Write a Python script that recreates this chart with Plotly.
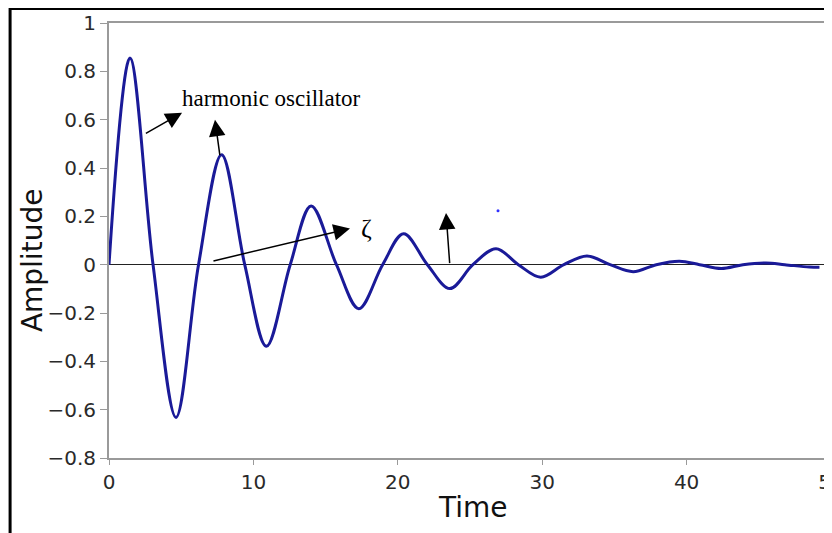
import plotly.graph_objects as go

# Values (extremes and zero crossings)
time = [0, 1.45, 3.05, 4.64, 6.2, 7.8, 9.4, 10.9, 12.55, 14.0, 15.75, 17.3,
        18.95, 20.4, 22.05, 23.6, 25.2, 26.8, 28.35, 29.9, 31.5, 33.1, 34.7,
        36.3, 37.9, 39.5, 40.9, 42.4, 43.9, 45.5, 46.8, 48.5, 49.2]
amplitude = [0, 0.855, 0, -0.632, 0, 0.455, 0, -0.338, 0, 0.243, 0, -0.182,
             0, 0.128, 0, -0.099, 0, 0.066, 0, -0.052, 0, 0.036, 0, -0.029,
             0, 0.014, 0, -0.016, 0, 0.007, 0, -0.010, -0.011]

x_ticks = [0, 10, 20, 30, 40, 50]
y_ticks = [-0.8, -0.6, -0.4, -0.2, 0, 0.2, 0.4, 0.6, 0.8, 1]

# Annotation arrows: (tail_t, tail_v, head_t, head_v)
arrows = [
    (2.45, 0.54, 5.06, 0.629),
    (7.69, 0.447, 7.34, 0.60),
    (7.13, 0.014, 16.69, 0.150),
    (23.6, 0.0, 23.34, 0.214),
]
label_text = "harmonic oscillator"
label_pos = (4.92, 0.687)
zeta_pos = (17.8, 0.149)
dot_pos = (26.94, 0.223)

fig = go.Figure()
fig.add_trace(go.Scatter(
    x=time, y=amplitude, mode="lines",
    line=dict(color="#1a1a98", width=3, shape="spline", smoothing=1.0),
    showlegend=False, hoverinfo="skip",
))
fig.add_trace(go.Scatter(
    x=[dot_pos[0]], y=[dot_pos[1]], mode="markers",
    marker=dict(color="#3030ff", size=3), showlegend=False, hoverinfo="skip",
))

annotations = []
for (tx, ty, hx, hy) in arrows:
    annotations.append(dict(
        x=hx, y=hy, ax=tx, ay=ty, xref="x", yref="y", axref="x", ayref="y",
        text="", showarrow=True, arrowhead=2, arrowsize=2.2, arrowwidth=1.5,
        arrowcolor="black", standoff=0, startstandoff=0,
    ))
annotations.append(dict(
    x=label_pos[0], y=label_pos[1], xref="x", yref="y", text=label_text,
    showarrow=False, xanchor="left", yanchor="middle",
    font=dict(family="Liberation Serif", size=23, color="black"),
))
annotations.append(dict(
    x=zeta_pos[0], y=zeta_pos[1], xref="x", yref="y", text="ζ",
    showarrow=False, xanchor="center", yanchor="middle",
    font=dict(family="Liberation Serif", size=26, color="black"),
))
annotations.append(dict(
    x=-0.1066, y=0.455, xref="paper", yref="paper", text="Amplitude",
    textangle=-90, showarrow=False, xanchor="center", yanchor="middle",
    font=dict(family="DejaVu Sans", size=28, color="#111111"),
))
annotations.append(dict(
    x=0.504, y=-0.113, xref="paper", yref="paper", text="Time",
    showarrow=False, xanchor="center", yanchor="middle",
    font=dict(family="DejaVu Sans", size=28, color="#111111"),
))

fig.update_layout(
    width=824, height=525,
    margin=dict(l=101, r=1, t=15, b=75, autoexpand=False),
    paper_bgcolor="white", plot_bgcolor="white",
    annotations=annotations,
    shapes=[dict(type="rect", xref="paper", yref="paper",
                 x0=-0.137, x1=1.2, y0=-0.3, y1=1.0333,
                 line=dict(color="black", width=3), layer="above")],
    font=dict(family="DejaVu Sans"),
)
fig.update_xaxes(
    range=[0, 50], tickvals=x_ticks, showgrid=False, zeroline=False,
    showline=True, linecolor="#9a9a9a", linewidth=2, mirror=True,
    ticks="outside", ticklen=5, tickcolor="#9a9a9a", tickwidth=1,
    ticklabeloverflow="allow", automargin=False,
    tickfont=dict(family="DejaVu Sans", size=20, color="#2a2a2a"),
)
fig.update_yaxes(
    range=[-0.8, 1], tickvals=y_ticks, showgrid=False,
    zeroline=True, zerolinecolor="#222222", zerolinewidth=1,
    showline=True, linecolor="#9a9a9a", linewidth=2, mirror=True,
    ticks="outside", ticklen=7, tickcolor="#9a9a9a", tickwidth=1,
    automargin=False,
    tickfont=dict(family="DejaVu Sans", size=20, color="#2a2a2a"),
)
fig.write_html("out.html")
